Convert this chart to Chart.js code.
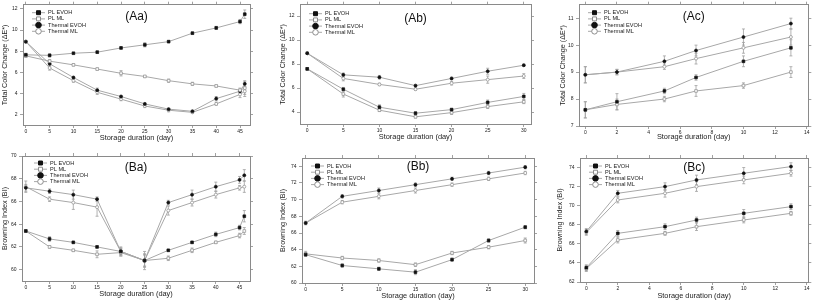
<!DOCTYPE html>
<html>
<head>
<meta charset="utf-8">
<script src="https://cdn.jsdelivr.net/npm/chart.js@4/dist/chart.umd.min.js"></script>
<style>
  body { margin: 0; background: #fff; width: 813px; height: 300px; position: relative; overflow: hidden; }
  canvas { position: absolute; }
</style>
</head>
<body>
<canvas id="aa" width="271" height="150" style="left:0;top:0"></canvas>
<canvas id="ab" width="271" height="150" style="left:271px;top:0"></canvas>
<canvas id="ac" width="271" height="150" style="left:542px;top:0"></canvas>
<canvas id="ba" width="271" height="150" style="left:0;top:150px"></canvas>
<canvas id="bb" width="271" height="150" style="left:271px;top:150px"></canvas>
<canvas id="bc" width="271" height="150" style="left:542px;top:150px"></canvas>
<script>
// ---- data ----
const SERIES = ['PL EVOH', 'PL ML', 'Thermal EVOH', 'Thermal ML'];

// (Aa) total colour change, 0-46 d
const aaDays = [0, 5, 10, 15, 20, 25, 30, 35, 40, 45, 46];
const aaPlEvoh = [7.65, 7.6, 7.8, 7.9, 8.3, 8.6, 8.9, 9.7, 10.2, 10.8, 11.5];
const aaPlMl = [7.55, 7.05, 6.7, 6.3, 5.9, 5.6, 5.2, 4.9, 4.7, 4.3, 4.5];
const aaThEvoh = [8.9, 6.8, 5.5, 4.3, 3.7, 3.0, 2.5, 2.3, 3.5, 4.2, 4.9];
const aaThMl = [8.9, 6.4, 5.2, 4.1, 3.45, 2.8, 2.4, 2.2, 3.0, 3.9, 4.2];
const aaPlEvohErr = [0.15, 0.15, 0.1, 0.1, 0.1, 0.2, 0.1, 0.1, 0.15, 0.2, 0.4];
const aaPlMlErr = [0.15, 0.15, 0.1, 0.1, 0.25, 0.1, 0.15, 0.15, 0.1, 0.2, 0.6];
const aaThEvohErr = [0.1, 0.2, 0.1, 0.2, 0.1, 0.1, 0.1, 0.1, 0.2, 0.2, 0.3];
const aaThMlErr = [0.1, 0.2, 0.15, 0.2, 0.15, 0.15, 0.15, 0.1, 0.15, 0.3, 0.5];

// (Ab) total colour change, 0-30 d
const abDays = [0, 5, 10, 15, 20, 25, 30];
const abPlEvoh = [7.6, 5.9, 4.4, 3.9, 4.2, 4.8, 5.3];
const abPlMl = [7.6, 5.5, 4.15, 3.6, 3.95, 4.45, 4.85];
const abThEvoh = [8.9, 7.1, 6.9, 6.2, 6.8, 7.4, 7.9];
const abThMl = [8.9, 6.8, 6.3, 5.9, 6.4, 6.7, 7.0];
const abPlEvohErr = [0.1, 0.15, 0.2, 0.1, 0.1, 0.2, 0.25];
const abPlMlErr = [0.1, 0.25, 0.1, 0.1, 0.15, 0.15, 0.15];
const abThEvohErr = [0.1, 0.15, 0.15, 0.1, 0.1, 0.25, 0.1];
const abThMlErr = [0.1, 0.2, 0.1, 0.1, 0.15, 0.3, 0.2];

// (Ac) total colour change, 0-13 d
const acDays = [0, 2, 5, 7, 10, 13];
const acPlEvoh = [7.6, 7.9, 8.3, 8.8, 9.4, 9.9];
const acPlMl = [7.6, 7.8, 8.0, 8.3, 8.5, 9.0];
const acThEvoh = [8.9, 9.0, 9.4, 9.8, 10.3, 10.8];
const acThMl = [8.9, 9.0, 9.2, 9.5, 9.9, 10.3];
const acPlEvohErr = [0.3, 0.3, 0.1, 0.1, 0.2, 0.3];
const acPlMlErr = [0.3, 0.2, 0.1, 0.2, 0.1, 0.2];
const acThEvohErr = [0.3, 0.1, 0.2, 0.2, 0.3, 0.2];
const acThMlErr = [0.3, 0.1, 0.1, 0.2, 0.2, 0.3];

// (Ba) browning index, 0-46 d
const baDays = [0, 5, 10, 15, 20, 25, 30, 35, 40, 45, 46];
const baPlEvoh = [63.4, 62.7, 62.4, 62.0, 61.6, 60.8, 61.7, 62.4, 63.1, 63.7, 64.7];
const baPlMl = [63.4, 62.0, 61.7, 61.35, 61.5, 60.8, 61.0, 61.7, 62.4, 63.0, 63.4];
const baThEvoh = [67.2, 66.9, 66.6, 66.2, 61.6, 60.8, 65.9, 66.6, 67.3, 67.9, 68.3];
const baThMl = [67.3, 66.2, 65.9, 65.5, 61.6, 60.8, 65.2, 65.9, 66.6, 67.2, 67.3];
const baPlEvohErr = [0.1, 0.2, 0.1, 0.1, 0.3, 0.5, 0.1, 0.1, 0.2, 0.2, 0.5];
const baPlMlErr = [0.1, 0.1, 0.1, 0.3, 0.3, 0.6, 0.2, 0.2, 0.1, 0.2, 0.3];
const baThEvohErr = [0.3, 0.2, 0.4, 0.2, 0.4, 0.5, 0.2, 0.4, 0.4, 0.3, 0.5];
const baThMlErr = [0.5, 0.2, 0.6, 0.8, 0.3, 0.8, 0.4, 0.3, 0.3, 0.2, 0.5];

// (Bb) browning index, 0-30 d
const bbDays = [0, 5, 10, 15, 20, 25, 30];
const bbPlEvoh = [63.4, 62.1, 61.7, 61.3, 62.8, 65.1, 66.7];
const bbPlMl = [63.5, 63.0, 62.7, 62.2, 63.6, 64.3, 65.1];
const bbThEvoh = [67.2, 70.4, 71.1, 71.8, 72.5, 73.2, 73.9];
const bbThMl = [67.2, 69.7, 70.4, 71.1, 71.8, 72.5, 73.2];
const bbPlEvohErr = [0.2, 0.2, 0.2, 0.3, 0.2, 0.2, 0.2];
const bbPlMlErr = [0.3, 0.2, 0.2, 0.2, 0.2, 0.2, 0.3];
const bbThEvohErr = [0.2, 0.2, 0.3, 0.2, 0.2, 0.2, 0.2];
const bbThMlErr = [0.2, 0.2, 0.3, 0.3, 0.2, 0.2, 0.2];

// (Bc) browning index, 0-13 d
const bcDays = [0, 2, 5, 7, 10, 13];
const bcPlEvoh = [63.5, 67.1, 67.8, 68.5, 69.2, 69.9];
const bcPlMl = [63.4, 66.4, 67.1, 67.8, 68.5, 69.2];
const bcThEvoh = [67.3, 71.3, 72.0, 72.7, 73.4, 74.1];
const bcThMl = [67.2, 70.6, 71.3, 72.0, 72.7, 73.4];
const bcPlEvohErr = [0.3, 0.3, 0.3, 0.3, 0.4, 0.3];
const bcPlMlErr = [0.3, 0.3, 0.2, 0.4, 0.3, 0.2];
const bcThEvohErr = [0.3, 0.3, 0.4, 0.5, 0.6, 0.4];
const bcThMlErr = [0.3, 0.3, 0.4, 0.5, 0.4, 0.3];

// ---- look ----
Chart.defaults.font.family = '"Liberation Sans", Arial, sans-serif';
Chart.defaults.color = '#222';

const LINE = '#a8a8a8';
const FRAME = '#8a8a8a';
const MARKS = [
  { style: 'rect', fill: '#111', edge: '#111', r: 1.9 },
  { style: 'rect', fill: '#fff', edge: '#8c8c8c', r: 1.9 },
  { style: 'circle', fill: '#111', edge: '#111', r: 1.5 },
  { style: 'circle', fill: '#fff', edge: '#8c8c8c', r: 1.5 },
];

// vertical error bars drawn under the lines
const errorBars = {
  id: 'errorBars',
  beforeDatasetsDraw(chart) {
    const { ctx, scales: { y } } = chart;
    ctx.save();
    ctx.strokeStyle = '#a0a0a0';
    ctx.lineWidth = 0.8;
    chart.data.datasets.forEach((ds, i) => {
      chart.getDatasetMeta(i).data.forEach((pt, j) => {
        const v = ds.data[j].y, e = ds.errors[j];
        const top = y.getPixelForValue(v + e), bot = y.getPixelForValue(v - e);
        ctx.beginPath();
        ctx.moveTo(pt.x, top); ctx.lineTo(pt.x, bot);
        ctx.moveTo(pt.x - 1.5, top); ctx.lineTo(pt.x + 1.5, top);
        ctx.moveTo(pt.x - 1.5, bot); ctx.lineTo(pt.x + 1.5, bot);
        ctx.stroke();
      });
    });
    ctx.restore();
  }
};

// in-plot legend and panel tag
const panelDeco = {
  id: 'panelDeco',
  afterDraw(chart, args, opts) {
    const { ctx, chartArea: a } = chart;
    ctx.save();
    ctx.fillStyle = '#111';
    ctx.font = '12px "Liberation Sans", Arial, sans-serif';
    ctx.textAlign = 'center';
    ctx.textBaseline = 'middle';
    ctx.fillText(opts.tag, (a.left + a.right) / 2, a.top + opts.tagDy);

    ctx.font = '5.6px "Liberation Sans", Arial, sans-serif';
    ctx.textAlign = 'left';
    chart.data.datasets.forEach((ds, i) => {
      const x0 = a.left + opts.legX, y = a.top + opts.legY + i * 6.2;
      ctx.strokeStyle = LINE;
      ctx.lineWidth = 1;
      ctx.beginPath(); ctx.moveTo(x0, y); ctx.lineTo(x0 + 13, y); ctx.stroke();
      ctx.fillStyle = ds.pointBackgroundColor;
      ctx.strokeStyle = ds.pointBorderColor;
      Chart.helpers.drawPoint(ctx, { pointStyle: ds.pointStyle, radius: 2.8, borderWidth: 0.8, rotation: 0 }, x0 + 6.5, y);
      ctx.fillStyle = '#222';
      ctx.fillText(ds.label, x0 + 16, y);
    });
    ctx.restore();
  }
};

function axis(pos, min, max, step, size, extra) {
  const horiz = pos === 'top' || pos === 'bottom';
  return Object.assign({
    type: 'linear', position: pos, min, max,
    ticks: { stepSize: step, includeBounds: false, autoSkip: false, maxRotation: 0,
             font: { size: 5 }, color: '#222', padding: horiz ? 1 : 2.5, display: pos === 'bottom' || pos === 'left' },
    grid: { drawOnChartArea: false, tickLength: 3, color: FRAME, tickWidth: 0.8 },
    border: { display: true, color: FRAME, width: 1 },
    afterFit(s) {
      if (horiz) s.height = size; else s.width = size;
      s.paddingLeft = s.paddingRight = s.paddingTop = s.paddingBottom = 0;
    }
  }, extra || {});
}

function makePanel(id, p) {
  const W = 271, H = 150;
  const [l, t, r, b] = p.box;
  new Chart(document.getElementById(id), {
    type: 'line',
    data: {
      datasets: p.series.map((s, i) => ({
        label: SERIES[i],
        data: p.days.map((d, j) => ({ x: d, y: s[j] })),
        errors: p.errs[i],
        borderColor: LINE,
        borderWidth: 1,
        pointStyle: MARKS[i].style,
        pointRadius: MARKS[i].r,
        pointBackgroundColor: MARKS[i].fill,
        pointBorderColor: MARKS[i].edge,
        pointBorderWidth: 0.7,
        tension: 0,
        xAxisID: 'x', yAxisID: 'y'
      }))
    },
    options: {
      responsive: false,
      animation: false,
      events: [],
      layout: { padding: 0 },
      plugins: {
        legend: { display: false },
        tooltip: { enabled: false },
        panelDeco: { tag: p.tag, tagDy: p.tagDy, legX: p.leg[0], legY: p.leg[1] }
      },
      scales: {
        x: axis('bottom', p.x[0], p.x[1], p.x[2], H - b, {
          title: { display: true, text: 'Storage duration (day)', font: { size: 7.4 }, color: '#222',
                   padding: { top: 0, bottom: p.xtPad } }
        }),
        x2: axis('top', p.x[0], p.x[1], p.x[2], t),
        y: axis('left', p.y[0], p.y[1], p.y[2], l, {
          title: { display: true, text: p.ytitle, font: { size: 7.2 }, color: '#222',
                   padding: { top: p.ytPad, bottom: 0 } }
        }),
        y2: axis('right', p.y[0], p.y[1], p.y[2], W - r)
      }
    },
    plugins: [errorBars, panelDeco]
  });
}

const TCC = 'Total Color Change (\u0394E*)';
const BI = 'Browning Index (BI)';

makePanel('aa', {
  tag: '(Aa)', days: aaDays, series: [aaPlEvoh, aaPlMl, aaThEvoh, aaThMl],
  errs: [aaPlEvohErr, aaPlMlErr, aaThEvohErr, aaThMlErr],
  x: [-0.6, 47.1, 5], y: [1, 12.4, 2], box: [23, 3, 250, 125],
  ytitle: TCC, ytPad: 0.7, xtPad: 7.7, tagDy: 12, leg: [9, 8]
});
makePanel('ab', {
  tag: '(Ab)', days: abDays, series: [abPlEvoh, abPlMl, abThEvoh, abThMl],
  errs: [abPlEvohErr, abPlMlErr, abThEvohErr, abThMlErr],
  x: [-1, 31, 5], y: [3, 12.95, 2], box: [29, 1, 260, 124],
  ytitle: TCC, ytPad: 7.7, xtPad: 8.7, tagDy: 14, leg: [9, 9]
});
makePanel('ac', {
  tag: '(Ac)', days: acDays, series: [acPlEvoh, acPlMl, acThEvoh, acThMl],
  errs: [acPlEvohErr, acPlMlErr, acThEvohErr, acThMlErr],
  x: [-0.4, 14.1, 2], y: [7, 11.5, 1], box: [37, 3, 267, 126],
  ytitle: TCC, ytPad: 16.7, xtPad: 8.7, tagDy: 12, leg: [9, 8]
});
makePanel('ba', {
  tag: '(Ba)', days: baDays, series: [baPlEvoh, baPlMl, baThEvoh, baThMl],
  errs: [baPlEvohErr, baPlMlErr, baThEvohErr, baThMlErr],
  x: [-0.8, 47.2, 5], y: [59, 70, 2], box: [22, 6, 250, 131],
  ytitle: BI, ytPad: 0.7, xtPad: 1.4, tagDy: 12, leg: [12, 7]
});
makePanel('bb', {
  tag: '(Bb)', days: bbDays, series: [bbPlEvoh, bbPlMl, bbThEvoh, bbThMl],
  errs: [bbPlEvohErr, bbPlMlErr, bbThEvohErr, bbThMlErr],
  x: [-0.5, 31.2, 5], y: [60, 75, 2], box: [31, 8, 263, 133],
  ytitle: BI, ytPad: 7.4, xtPad: 0, tagDy: 9, leg: [9, 8]
});
makePanel('bc', {
  tag: '(Bc)', days: bcDays, series: [bcPlEvoh, bcPlMl, bcThEvoh, bcThMl],
  errs: [bcPlEvohErr, bcPlMlErr, bcThEvohErr, bcThMlErr],
  x: [-0.4, 14.1, 2], y: [62, 75, 2], box: [38, 8, 267, 132],
  ytitle: BI, ytPad: 14, xtPad: 0, tagDy: 10, leg: [9, 8]
});
</script>
</body>
</html>
